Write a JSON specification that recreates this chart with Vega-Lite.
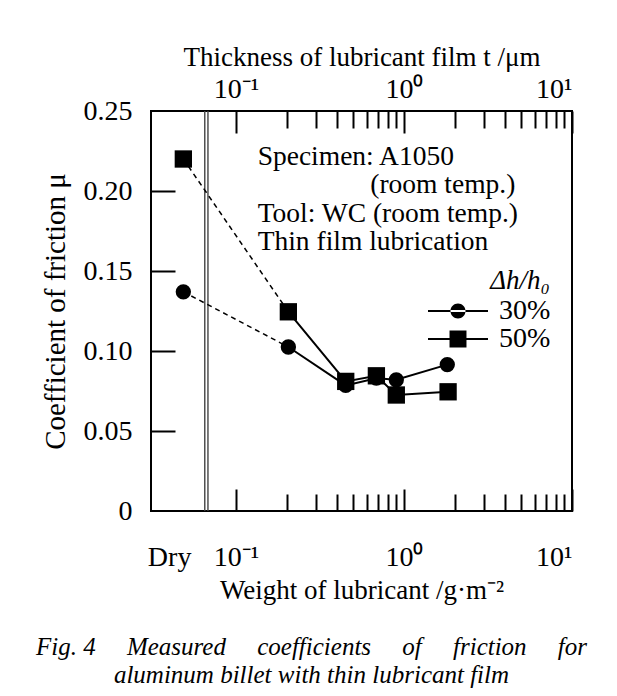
{
  "$schema": "https://vega.github.io/schema/vega-lite/v6.json",
  "width": 421,
  "height": 400,
  "autosize": {"type": "none"},
  "padding": {"left": 151, "top": 111, "right": 45, "bottom": 185},
  "background": "white",
  "datasets": {
    "pts": [
      {"series": "30%", "w": 0.0486, "mu": 0.137},
      {"series": "30%", "w": 0.205, "mu": 0.1025},
      {"series": "30%", "w": 0.45, "mu": 0.0785},
      {"series": "30%", "w": 0.685, "mu": 0.083},
      {"series": "30%", "w": 0.9, "mu": 0.082},
      {"series": "30%", "w": 1.81, "mu": 0.0915},
      {"series": "50%", "w": 0.0486, "mu": 0.22},
      {"series": "50%", "w": 0.205, "mu": 0.1245},
      {"series": "50%", "w": 0.45, "mu": 0.081},
      {"series": "50%", "w": 0.685, "mu": 0.0845},
      {"series": "50%", "w": 0.9, "mu": 0.0725},
      {"series": "50%", "w": 1.83, "mu": 0.0745}
    ],
    "breaks": [{"b": 0.0652}, {"b": 0.0681}],
    "notes": [
      {"w": 0.1346, "mu": 0.2212, "txt": "Specimen: A1050"},
      {"w": 0.63, "mu": 0.2035, "txt": "(room temp.)"},
      {"w": 0.1346, "mu": 0.1858, "txt": "Tool: WC (room temp.)"},
      {"w": 0.1346, "mu": 0.1681, "txt": "Thin film lubrication"}
    ]
  },
  "title": {
    "text": ["Fig. 4 \u2003Measured \u2003coefficients \u2003of \u2003friction \u2003for", "aluminum billet with thin lubricant film"],
    "orient": "bottom",
    "anchor": "middle",
    "dx": -50,
    "offset": 32,
    "fontSize": 25,
    "fontStyle": "italic",
    "fontWeight": "normal",
    "lineHeight": 28,
    "color": "black"
  },
  "resolve": {"axis": {"x": "independent", "y": "independent"}},
  "layer": [
    {
      "data": {"name": "breaks"},
      "mark": {"type": "rule", "color": "#444", "strokeWidth": 1.4},
      "encoding": {
        "x": {
          "field": "b", "type": "quantitative",
          "scale": {"type": "log", "domain": [0.0312, 10], "nice": false},
          "axis": {
            "orient": "top", "values": [0.1, 1, 10], "ticks": false, "labelPadding": 8,
            "labelFlush": true, "labelOverlap": false,
            "labelExpr": "datum.value < 0.5 ? '10⁻¹' : datum.value < 5 ? '10⁰' : '10¹'",
            "title": "Thickness of lubricant film t /μm", "titlePadding": 4
          }
        }
      }
    },
    {
      "data": {"name": "pts"},
      "transform": [{"filter": "datum.w < 0.3"}],
      "mark": {"type": "line", "color": "black", "strokeWidth": 1.5, "strokeDash": [5, 4]},
      "encoding": {
        "x": {
          "field": "w", "type": "quantitative",
          "scale": {"type": "log", "domain": [0.0312, 10], "nice": false},
          "axis": {"orient": "bottom", "values": [0.1, 1, 10], "labels": false, "ticks": true, "tickSize": -22, "title": null}
        },
        "y": {
          "field": "mu", "type": "quantitative",
          "scale": {"domain": [0, 0.25], "nice": false},
          "axis": {"orient": "left", "values": [0.05, 0.1, 0.15, 0.2], "labels": false, "ticks": true, "tickSize": -24, "title": null}
        },
        "detail": {"field": "series", "type": "nominal"}
      }
    },
    {
      "data": {"name": "pts"},
      "transform": [{"filter": "datum.w > 0.1"}],
      "mark": {"type": "line", "color": "black", "strokeWidth": 2},
      "encoding": {
        "x": {
          "field": "w", "type": "quantitative",
          "scale": {"type": "log", "domain": [0.0312, 10], "nice": false},
          "axis": {"orient": "bottom", "values": [0.2, 0.3, 0.4, 0.5, 0.6, 0.7, 0.8, 0.9, 2, 3, 4, 5, 6, 7, 8, 9], "labels": false, "ticks": true, "tickSize": -17, "title": null}
        },
        "y": {"field": "mu", "type": "quantitative", "scale": {"domain": [0, 0.25], "nice": false}, "axis": null},
        "detail": {"field": "series", "type": "nominal"}
      }
    },
    {
      "data": {"name": "pts"},
      "transform": [{"filter": "datum.series == '30%'"}],
      "mark": {"type": "point", "shape": "circle", "filled": true, "color": "black", "opacity": 1, "size": 235},
      "encoding": {
        "x": {
          "field": "w", "type": "quantitative",
          "scale": {"type": "log", "domain": [0.0312, 10], "nice": false},
          "axis": {
            "orient": "bottom", "values": [0.04, 0.1, 1, 10], "ticks": false, "labelPadding": 32,
            "labelFlush": true, "labelOverlap": false,
            "labelExpr": "datum.value < 0.07 ? 'Dry' : datum.value < 0.5 ? '10⁻¹' : datum.value < 5 ? '10⁰' : '10¹'",
            "title": "Weight of lubricant /g·m⁻²", "titlePadding": 6
          }
        },
        "y": {
          "field": "mu", "type": "quantitative",
          "scale": {"domain": [0, 0.25], "nice": false},
          "axis": {
            "orient": "left", "values": [0, 0.05, 0.1, 0.15, 0.2, 0.25], "ticks": false, "labelPadding": 19,
            "labelExpr": "datum.value == 0 ? '0' : format(datum.value, '.2f')",
            "title": "Coefficient of friction μ", "titlePadding": 13, "titleFontSize": 29
          }
        }
      }
    },
    {
      "data": {"name": "pts"},
      "transform": [{"filter": "datum.series == '50%'"}],
      "mark": {"type": "point", "shape": "square", "filled": true, "color": "black", "opacity": 1, "size": 300},
      "encoding": {
        "x": {
          "field": "w", "type": "quantitative",
          "scale": {"type": "log", "domain": [0.0312, 10], "nice": false},
          "axis": null
        },
        "y": {"field": "mu", "type": "quantitative", "scale": {"domain": [0, 0.25], "nice": false}, "axis": null}
      }
    },
    {
      "data": {"name": "notes"},
      "mark": {"type": "text", "align": "left", "baseline": "middle", "fontSize": 27.5, "color": "black"},
      "encoding": {
        "x": {
          "field": "w", "type": "quantitative",
          "scale": {"type": "log", "domain": [0.0312, 10], "nice": false},
          "axis": {"orient": "top", "values": [0.2, 0.3, 0.4, 0.5, 0.6, 0.7, 0.8, 0.9, 2, 3, 4, 5, 6, 7, 8, 9], "labels": false, "ticks": true, "tickSize": -17, "title": null}
        },
        "y": {"field": "mu", "type": "quantitative", "scale": {"domain": [0, 0.25], "nice": false}, "axis": null},
        "text": {"field": "txt"}
      }
    },
    {
      "data": {"name": "pts"},
      "transform": [{"filter": "false"}],
      "mark": {"type": "point", "filled": true, "color": "black", "opacity": 1},
      "encoding": {
        "x": {
          "field": "w", "type": "quantitative",
          "scale": {"type": "log", "domain": [0.0312, 10], "nice": false},
          "axis": {"orient": "top", "values": [0.1, 1, 10], "labels": false, "ticks": true, "tickSize": -22, "title": null}
        },
        "y": {"field": "mu", "type": "quantitative", "scale": {"domain": [0, 0.25], "nice": false}, "axis": null},
        "shape": {
          "field": "series", "type": "nominal",
          "scale": {
            "domain": ["30%", "50%"],
            "range": [
              "M-3.75,-0.12L3.75,-0.12L3.75,0.12L-3.75,0.12ZM-0.94,0A0.94,0.94,0,1,0,0.94,0A0.94,0.94,0,1,0,-0.94,0Z",
              "M-3.75,-0.12L3.75,-0.12L3.75,0.12L-3.75,0.12ZM-1.06,-1.06L1.06,-1.06L1.06,1.06L-1.06,1.06Z"
            ]
          },
          "legend": {
            "orient": "none", "legendX": 293, "legendY": 157,
            "title": "Δh/h₀", "titleFontSize": 27, "titleFontStyle": "italic", "titleFontWeight": "normal",
            "titleAnchor": "end", "titlePadding": 2, "titleColor": "black",
            "labelFontSize": 28, "labelOffset": 27, "labelColor": "black",
            "symbolSize": 256, "rowPadding": 0, "padding": 0,
            "symbolFillColor": "black", "symbolOpacity": 1, "symbolStrokeWidth": 0
          }
        }
      }
    }
  ],
  "config": {
    "font": "Liberation Serif",
    "view": {"stroke": "black", "strokeWidth": 2},
    "axis": {
      "grid": false, "domain": false,
      "labelFontSize": 28, "titleFontSize": 27, "titleFontWeight": "normal",
      "labelColor": "black", "titleColor": "black", "tickColor": "black", "tickWidth": 2
    }
  }
}
